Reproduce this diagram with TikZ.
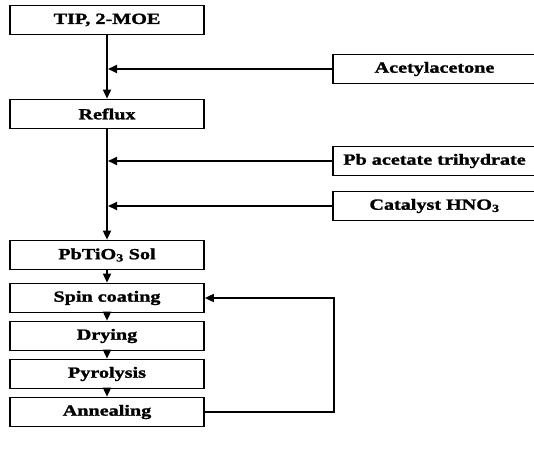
\documentclass[tikz,border=0pt]{standalone}
\usepackage{fontspec}
\setmainfont{Liberation Serif}[FakeStretch=1.3, BoldFeatures={FakeBold=1.5}]
\usetikzlibrary{arrows.meta}
\tikzset{
  stepbox/.style={shape=rectangle, draw=black, line width=1.7pt, minimum width=194pt, minimum height=29pt, inner sep=0pt, font=\fontsize{15.5}{18}\selectfont\bfseries},
  addbox/.style={stepbox, minimum width=203pt},
  flow/.style={draw=black, line width=1.7pt, -{Triangle[length=9pt,width=8pt]}}
}
\begin{document}
\begin{tikzpicture}[x=1pt,y=-1pt]
     \useasboundingbox (0,0) rectangle (534,455);

     % main line
     \node[stepbox] (TIP)    at (107,20)  {TIP, 2-MOE};
     \node[stepbox] (Reflux) at (107,114) {Reflux};
     \node[stepbox] (Sol)    at (107,255) {PbTiO\textsubscript{3} Sol};
     \node[stepbox] (Spin)   at (107,298) {Spin coating};
     \node[stepbox] (Dry)    at (107,336) {Drying};
     \node[stepbox] (Pyro)   at (107,374) {Pyrolysis};
     \node[stepbox] (Anneal) at (107,412) {Annealing};

     % additions
     \node[addbox] (Acac) at (434.5,69)  {Acetylacetone};
     \node[addbox] (PbAc) at (434.5,161) {Pb acetate trihydrate};
     \node[addbox] (HNO)  at (434.5,206) {Catalyst HNO\textsubscript{3}};

     \coordinate (J1) at (108,69);
     \coordinate (J2) at (108,161);
     \coordinate (J3) at (108,206);
     \coordinate (Loop) at (334,0);

     \draw [flow] (TIP) to (Reflux);
     \draw [flow] (Reflux) to (Sol);
     \draw [flow] (Sol) to (Spin);
     \draw [flow] (Spin) to (Dry);
     \draw [flow] (Dry) to (Pyro);
     \draw [flow] (Pyro) to (Anneal);

     \draw [flow] (Acac.west) to (J1);
     \draw [flow] (PbAc.west) to (J2);
     \draw [flow] (HNO.west) to (J3);

     % back to spin coating
     \draw [flow] (Anneal.east) -- (Anneal.east -| Loop) |- (Spin.east);

\end{tikzpicture}
\end{document}
